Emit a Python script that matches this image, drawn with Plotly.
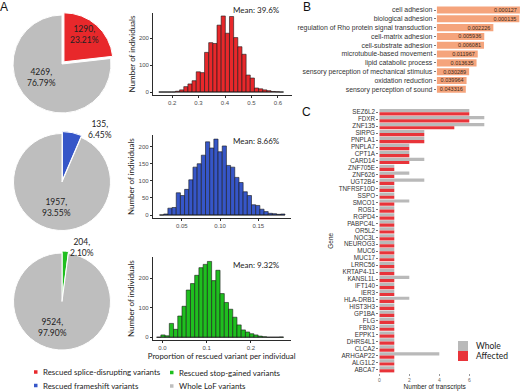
import math
import plotly.graph_objects as go

W, H = 520, 391
def fx(x): return x / W
def fy(y): return 1 - y / H

# ---------------- data ----------------
# Panel A pies
rescued_names = ["Rescued splice-disrupting variants", "Rescued frameshift variants", "Rescued stop-gained variants"]
rescued_counts = [1290, 135, 204]
remaining_counts = [4269, 1957, 9524]
whole_name = "Whole LoF variants"

# Panel A histograms (30 bins each)
hist_starts = [0.15, 0.021, -0.0128]
hist_widths = [0.0157, 0.00546, 0.00955]
splice_counts = [0, 0, 0, 0, 3, 8, 20, 30, 42, 75, 72, 147, 183, 180, 248,
                 282, 218, 280, 202, 168, 140, 63, 52, 15, 12, 8, 5, 2, 1, 0]
frameshift_counts = [0, 3, 20, 22, 65, 57, 75, 103, 140, 150, 175, 214, 196, 222, 185,
                     202, 145, 140, 110, 95, 68, 57, 30, 28, 17, 10, 5, 4, 2, 3]
stopgain_counts = [0, 8, 5, 47, 27, 72, 105, 160, 182, 210, 236, 247, 257, 192, 227,
                   148, 118, 95, 68, 42, 25, 18, 12, 8, 4, 2, 0, 0, 0, 1]
mean_pct = [39.6, 8.66, 9.32]

# Panel B
go_terms = ["cell adhesion", "biological adhesion", "regulation of Rho protein signal transduction",
            "cell-matrix adhesion", "cell-substrate adhesion", "microtubule-based movement",
            "lipid catabolic process", "sensory perception of mechanical stimulus",
            "oxidation reduction", "sensory perception of sound"]
go_pvalues = [0.000127, 0.000135, 0.002226, 0.005936, 0.006081, 0.011967,
              0.013635, 0.030289, 0.039964, 0.043316]

# Panel C
genes = ["SEZ6L2", "FDXR", "ZNF135", "SIRPG", "PNPLA1", "PNPLA7", "CPT1A", "CARD14",
         "ZNF705E", "ZNF626", "UGT2B4", "TNFRSF10D", "SSPO", "SMCO1", "ROS1", "RGPD4",
         "PABPC4L", "OR5L2", "NOC3L", "NEUROG3", "MUC6", "MUC17", "LRRC56", "KRTAP4-11",
         "KANSL1L", "IFT140", "IER3", "HLA-DRB1", "HIST3H3", "GP1BA", "FLG", "FBN3",
         "EPPK1", "DHRS4L1", "CLCA2", "ARHGAP22", "ALG1L2", "ABCA7"]
whole_counts = [6, 7, 7, 3, 3, 2, 2, 3, 1, 2, 3, 1, 1, 2, 1, 1, 1, 1, 1, 1, 1, 1, 1, 1,
                2, 1, 1, 2, 1, 1, 1, 1, 1, 1, 1, 4, 1, 1]
affected_counts = [6, 6, 5, 3, 3, 2, 2, 2, 1, 1, 1, 1, 1, 1, 1, 1, 1, 1, 1, 1, 1, 1, 1, 1,
                   1, 1, 1, 1, 1, 1, 1, 1, 1, 1, 1, 1, 1, 1]

# ---------------- styles ----------------
RED, BLUE, GREEN, GRAY = "#E8282B", "#3656C8", "#1FBF1F", "#BEBEBE"
rescued_colors = [RED, BLUE, GREEN]
SANS = "Lato, 'Open Sans', sans-serif"
ARIAL = "'Liberation Sans', Arial, sans-serif"

fig = go.Figure()
annotations = []
shapes = []

# ---- pies ----
pie_centers = [(62, 64), (62, 182), (62, 301.5)]
pie_radii = [49, 48.5, 48.5]
pie_pulls = [0.06, 0.04, 0.04]
rescued_label_pos = [(84.5, 34.5), (100, 130), (82, 247.5)]
rest_label_pos = [(41, 77.5), (56, 207), (52, 327.7)]
for i in range(3):
    cx, cy = pie_centers[i]
    half = pie_radii[i] * (1 + pie_pulls[i])
    fig.add_trace(go.Pie(
        values=[rescued_counts[i], remaining_counts[i]],
        labels=[rescued_names[i], whole_name],
        marker=dict(colors=[rescued_colors[i], GRAY], line=dict(color="white", width=1)),
        direction="clockwise", sort=False, rotation=0,
        pull=[pie_pulls[i], 0], textinfo="none", showlegend=False,
        domain=dict(x=[fx(cx - half), fx(cx + half)], y=[fy(cy + half), fy(cy - half)]),
    ))
    tot = rescued_counts[i] + remaining_counts[i]
    for (val, pos) in [(rescued_counts[i], rescued_label_pos[i]), (remaining_counts[i], rest_label_pos[i])]:
        annotations.append(dict(
            x=fx(pos[0]), y=fy(pos[1]), xref="paper", yref="paper", showarrow=False,
            text=f"{val},<br>{val / tot * 100:.2f}%", align="center",
            font=dict(family=SANS, size=8.5, color="#222222"), xanchor="center", yanchor="middle"))

# ---- histograms ----
hist_counts = [splice_counts, frameshift_counts, stopgain_counts]
hist_xdom = [(153, 292), (152.7, 290.7), (152.7, 290.7)]
hist_ydom = [(95, 13), (218.3, 135), (340, 257.3)]
hist_xrange = [(0.128, 0.653), (0.0121, 0.1923), (-0.0217, 0.29)]
hist_yrange = [(-11, 293), (-9.6, 234), (-9.2, 271)]
hist_xticks = [[0.2, 0.3, 0.4, 0.5, 0.6], [0.05, 0.10, 0.15], [0.0, 0.1, 0.2]]
hist_xfmt = [".1f", ".2f", ".1f"]
hist_yticks = [[0, 100, 200], [0, 50, 100, 150, 200], [0, 100, 200]]
mean_y = [10, 141, 265]
axis_line = "#2b2b2b"
layout_axes = {}
for i in range(3):
    xa = "x" if i == 0 else f"x{i + 1}"
    ya = "y" if i == 0 else f"y{i + 1}"
    start, w, counts = hist_starts[i], hist_widths[i], hist_counts[i]
    centers = [start + (k + 0.5) * w for k in range(len(counts))]
    fig.add_trace(go.Scatter(x=[start, start + len(counts) * w], y=[0, 0], mode="lines",
                             line=dict(color="#1a1a1a", width=0.7), xaxis=xa, yaxis=ya,
                             showlegend=False, hoverinfo="skip"))
    fig.add_trace(go.Bar(x=centers, y=counts, width=w, xaxis=xa, yaxis=ya, showlegend=False,
                         marker=dict(color=rescued_colors[i], line=dict(color="#1a1a1a", width=0.6))))
    xkey = "xaxis" if i == 0 else f"xaxis{i + 1}"
    ykey = "yaxis" if i == 0 else f"yaxis{i + 1}"
    layout_axes[xkey] = dict(
        domain=[fx(hist_xdom[i][0]), fx(hist_xdom[i][1])], range=list(hist_xrange[i]), anchor=ya,
        showline=True, linecolor=axis_line, linewidth=0.8, ticks="outside", ticklen=2,
        tickcolor=axis_line, tickwidth=0.8, tickvals=hist_xticks[i], tickformat=hist_xfmt[i],
        tickfont=dict(family=ARIAL, size=6, color="#4D4D4D"), showgrid=False, zeroline=False)
    layout_axes[ykey] = dict(
        domain=[fy(hist_ydom[i][0]), fy(hist_ydom[i][1])], range=list(hist_yrange[i]), anchor=xa,
        showline=True, linecolor=axis_line, linewidth=0.8, ticks="outside", ticklen=2,
        tickcolor=axis_line, tickwidth=0.8, tickvals=hist_yticks[i],
        tickfont=dict(family=ARIAL, size=6, color="#4D4D4D"), showgrid=False, zeroline=False,
        title=dict(text="Number of individuals", font=dict(family=SANS, size=8, color="#222222"), standoff=2))
    annotations.append(dict(x=fx(256.5), y=fy(mean_y[i]), xref="paper", yref="paper", showarrow=False,
                            text=f"Mean: {mean_pct[i]}%", font=dict(family=SANS, size=8, color="#222222"),
                            xanchor="center", yanchor="middle"))
layout_axes["xaxis3"]["title"] = dict(text="Proportion of rescued variant per individual",
                                      font=dict(family=SANS, size=7.8, color="#222222"), standoff=1)

# ---- panel B ----
fig.add_trace(go.Bar(
    x=[-math.log10(p) for p in go_pvalues], y=go_terms, orientation="h", width=0.8,
    xaxis="x4", yaxis="y4", showlegend=False, marker=dict(color="#F5A47C", line=dict(width=0)),
    text=[f"{p:.6f}" for p in go_pvalues], textposition="inside", insidetextanchor="end",
    constraintext="none", cliponaxis=False,
    textangle=0, textfont=dict(family=ARIAL, size=5.5, color="#3b2a1a")))
layout_axes["xaxis4"] = dict(domain=[fx(436.7), fx(520)], range=[0, 3.9], anchor="y4", visible=False)
layout_axes["yaxis4"] = dict(domain=[fy(93.7), fy(5.6)], anchor="x4", type="category",
                             categoryorder="array", categoryarray=go_terms,
                             tickmode="array", tickvals=go_terms,
                             range=[len(go_terms) - 0.5, -0.5], ticks="outside", ticklen=2,
                             tickcolor="#777777", tickwidth=0.6, showline=False, showgrid=False,
                             tickfont=dict(family=ARIAL, size=6.9, color="#333333"))

# ---- panel C ----
fig.add_trace(go.Bar(x=whole_counts, y=genes, orientation="h", name="Whole", xaxis="x5", yaxis="y5",
                     marker=dict(color="#B9B9B9", line=dict(width=0)), showlegend=False))
fig.add_trace(go.Bar(x=affected_counts, y=genes, orientation="h", name="Affected", xaxis="x5", yaxis="y5",
                     marker=dict(color="#E8343A", line=dict(width=0)), showlegend=False))
layout_axes["xaxis5"] = dict(domain=[fx(379.3), fx(490)], range=[0, 7.38], anchor="y5",
                             tickvals=[0, 2, 4, 6], ticks="outside", ticklen=2, tickcolor="#9a9a9a",
                             tickwidth=0.6, showline=False, showgrid=False, zeroline=False,
                             tickfont=dict(family=ARIAL, size=5, color="#666666"),
                             title=dict(text="Number of transcripts", font=dict(family=ARIAL, size=6.5, color="#222222"), standoff=1))
layout_axes["yaxis5"] = dict(domain=[fy(372.8), fy(108.8)], anchor="x5", type="category",
                             categoryorder="array", categoryarray=genes,
                             tickmode="array", tickvals=genes, ticktext=genes,
                             range=[len(genes) - 0.5, -0.5], ticks="outside", ticklen=2,
                             tickcolor="#777777", tickwidth=0.6, showline=False, showgrid=False,
                             tickfont=dict(family=ARIAL, size=6.3, color="#333333"),
                             title=dict(text="Gene", font=dict(family=ARIAL, size=6.5, color="#222222"), standoff=4))

# C legend
for name, col, y0 in [("Whole", "#B9B9B9", 341), ("Affected", "#E8343A", 351)]:
    shapes.append(dict(type="rect", xref="paper", yref="paper", x0=fx(458), x1=fx(468),
                       y0=fy(y0 + 10), y1=fy(y0), fillcolor=col, line=dict(width=0)))
    annotations.append(dict(x=fx(474), y=fy(y0 + 5), xref="paper", yref="paper", showarrow=False,
                            text=name, xanchor="left", yanchor="middle",
                            font=dict(family=SANS, size=8.5, color="#222222")))

# A legend
legend_items = [(rescued_names[0], RED, 34, 372), (rescued_names[1], BLUE, 34, 385.5),
                (rescued_names[2], GREEN, 170, 372.5), (whole_name, GRAY, 170, 386)]
for name, col, x, y in legend_items:
    shapes.append(dict(type="rect", xref="paper", yref="paper", x0=fx(x), x1=fx(x + 3.5),
                       y0=fy(y + 1.75), y1=fy(y - 1.75), fillcolor=col, line=dict(width=0)))
    annotations.append(dict(x=fx(x + 7), y=fy(y), xref="paper", yref="paper", showarrow=False,
                            text=name, xanchor="left", yanchor="middle",
                            font=dict(family=SANS, size=7.9, color="#222222")))

# panel letters
for letter, x, y in [("A", 4, 7), ("B", 307, 7), ("C", 306, 112)]:
    annotations.append(dict(x=fx(x), y=fy(y), xref="paper", yref="paper", showarrow=False,
                            text=letter, xanchor="center", yanchor="middle",
                            font=dict(family=ARIAL, size=12, color="#111111")))

fig.update_layout(
    width=W, height=H, autosize=False, margin=dict(l=0, r=0, t=0, b=0),
    paper_bgcolor="white", plot_bgcolor="rgba(0,0,0,0)",
    barmode="group", bargap=0.08, bargroupgap=0,
    annotations=annotations, shapes=shapes, showlegend=False,
    **layout_axes)

fig.write_html("out.html", config={"displayModeBar": False},
               post_script="document.body.style.margin='0';document.body.style.padding='0';")
